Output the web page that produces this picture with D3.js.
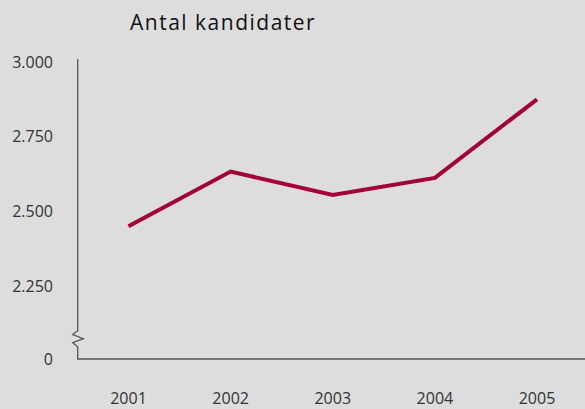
<!DOCTYPE html>
<meta charset="utf-8">
<style>
 body {
   margin: 0;
   background-color: #dcdddc;
 }

 svg {
   font-family: "Open Sans", sans-serif;
 }

 .title {
   font-size: 21px;
   letter-spacing: 1.5px;
   fill: #111;
 }

 .axis text {
   font-size: 16px;
   fill: #333;
 }

 .axis-line {
   stroke: #555;
   stroke-width: 1.3;
   fill: none;
 }

 .series {
   fill: none;
   stroke: #a50034;
   stroke-width: 4;
   stroke-linejoin: miter;
 }
</style>

<svg width="585" height="409"></svg>

<script src="https://d3js.org/d3.v7.min.js"></script>
<script>

 var years = ['2001', '2002', '2003', '2004', '2005']
 var kandidater = [2450, 2633, 2555, 2612, 2875]
 var yTicks = [0, 2250, 2500, 2750, 3000]
 var title = 'Antal kandidater'

 var svg = d3.select('svg')

 var x = d3.scalePoint()
           .domain(years)
           .range([128.5, 537])

 // broken axis: 0 sits below the break, the rest is linear from 2250 up
 var y = d3.scaleLinear()
           .domain([0, 2250, 3000])
           .range([359, 286, 62])

 var fmt = function(d) { return d3.format(',')(d).replace(/,/g, '.') }

 svg.append('text')
    .attr('class', 'title')
    .attr('x', 130)
    .attr('y', 30)
    .text(title)

 // y tick labels
 var yAxis = svg.append('g').attr('class', 'axis')
 yAxis.selectAll('text')
      .data(yTicks)
      .enter().append('text')
      .attr('x', 53)
      .attr('y', d => y(d))
      .attr('dy', '0.36em')
      .attr('text-anchor', 'end')
      .text(fmt)

 // x tick labels
 var xAxis = svg.append('g').attr('class', 'axis')
 xAxis.selectAll('text')
      .data(years)
      .enter().append('text')
      .attr('x', d => x(d))
      .attr('y', 404)
      .attr('text-anchor', 'middle')
      .text(d => d)

 // axis lines with the zigzag break
 var ax = 77.7
 var bottom = y(0)
 svg.append('path')
    .attr('class', 'axis-line')
    .attr('d', `M${ax},59 L${ax},330.7 L72.7,334.5 L83.3,338.7 L72.7,342.7 L${ax},346.7 L${ax},${bottom} L585,${bottom}`)

 var line = d3.line()
              .x((d, i) => x(years[i]))
              .y(d => y(d))

 svg.append('path')
    .datum(kandidater)
    .attr('class', 'series')
    .attr('d', line)

</script>
